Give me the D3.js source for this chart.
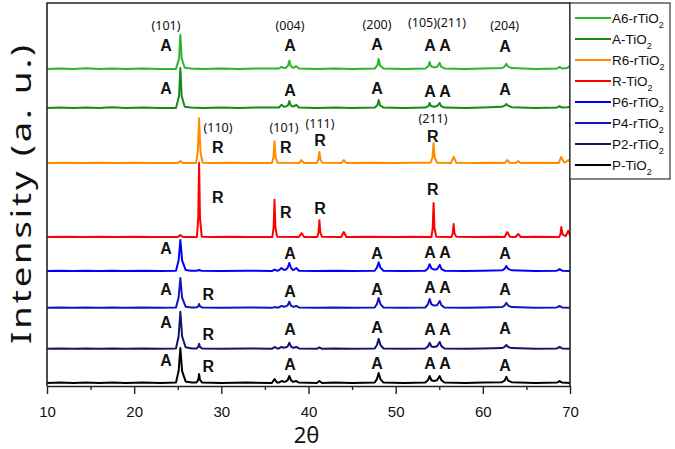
<!DOCTYPE html>
<html><head><meta charset="utf-8">
<script src="https://cdn.jsdelivr.net/npm/d3@7"></script>
<style>body{margin:0;background:#fff}</style>
</head><body><svg id="c" width="675" height="449"></svg>
<script>
// ---- data ----
const seriesNames = ["A6-rTiO", "A-TiO", "R6-rTiO", "R-TiO", "P6-rTiO", "P4-rTiO", "P2-rTiO", "P-TiO"];
const seriesColors = ["#2bb52b", "#168a16", "#ff8c00", "#ff0000", "#0000ff", "#1414b8", "#14146e", "#000000"];
const seriesOffsets = [828, 726, 582, 389, 300, 204, 97, 8];

const A6 = [[10,0],[11.5,1],[13,0],[14.5,1.5],[16,0],[17.5,1],[19,0],[21,1],[23,0],[24.8,0],[25.15,27],[25.3,89],[25.45,27],[25.8,3],[26.5,1],[28,0],[30,1],[32,0],[34,1],[36.6,1],[36.9,5],[37.2,2],[37.4,3],[37.65,8],[37.8,21],[37.95,8],[38.2,3],[38.3,3],[38.6,7],[38.9,1],[41,0],[43,1],[45,0],[47.6,1],[47.9,9],[48.05,26],[48.2,9],[48.6,1],[51,0],[53.4,1],[53.75,7],[53.9,18],[54.05,7],[54.4,4],[54.75,5],[55.05,16],[55.2,6],[55.6,1],[58,0],[60,1],[62.2,2],[62.5,6],[62.7,13],[62.9,6],[63.3,2],[66,0],[68.5,1],[68.8,5],[69.1,1],[69.7,2],[70,8]];
const A = [[10,0],[11.5,1],[13,0],[14.5,1],[16,0],[17.5,1.5],[19,0],[21,1],[23,0],[24.8,0],[25.15,31],[25.3,104],[25.45,31],[25.8,3],[26.5,1],[28,0],[30,1],[32,0],[34,1],[36.6,1],[36.9,8],[37.2,3],[37.4,4],[37.65,7],[37.8,18],[37.95,7],[38.2,4],[38.3,4],[38.6,8],[38.9,1],[41,0],[43,1],[45,0],[47.6,1],[47.9,7],[48.05,21],[48.2,7],[48.6,1],[51,0],[53.4,1],[53.75,5],[53.9,13],[54.05,5],[54.4,3],[54.75,5],[55.05,13],[55.2,5],[55.6,1],[58,0],[60,1],[62.2,3],[62.5,6],[62.7,10],[62.9,6],[63.3,2],[66,0],[68.5,1],[68.8,5],[69.1,1],[69.7,2],[70,3]];
const R6 = [[10,0],[12,1],[14,0],[16,1],[18,0],[20,1],[22,0],[25,0],[25.3,5],[25.6,0],[27.1,0],[27.3,30],[27.45,117],[27.6,30],[27.85,1],[29,0],[31,1],[33,0],[35.8,0],[35.98,15],[36.1,57],[36.22,15],[36.45,1],[38.9,0],[39.2,8],[39.5,0],[40.95,0],[41.12,8],[41.25,29],[41.38,8],[41.6,1],[43.75,0],[44.05,8],[44.35,0],[47,1],[50,0],[52,1],[54.0,1],[54.22,14],[54.35,52],[54.48,14],[54.75,1],[56.35,0],[56.65,16],[56.95,1],[59,0],[61,1],[62.5,0],[62.8,8],[63.1,1],[63.75,0],[64.05,5],[64.35,0],[66,1],[68.7,0],[69.0,16],[69.3,2],[69.5,2],[69.8,8],[70,3]];
const R = [[10,0],[12,1],[14,0],[16,1],[18,0],[20,1],[22,0],[25,0],[25.3,5],[25.6,0],[27.2,0],[27.35,50],[27.45,193],[27.55,50],[27.75,1],[29,0],[31,1],[33,0],[35.85,0],[36.0,25],[36.1,97],[36.2,25],[36.4,1],[38.9,0],[39.2,10],[39.5,0],[41.0,0],[41.15,12],[41.25,44],[41.35,12],[41.55,1],[43.75,0],[44.05,13],[44.35,0],[47,1],[50,0],[52,1],[54.1,0],[54.25,23],[54.35,89],[54.45,23],[54.65,1],[56.4,0],[56.55,9],[56.65,34],[56.75,9],[56.95,1],[59,0],[61,1],[62.5,0],[62.8,13],[63.1,1],[63.75,0],[64.05,8],[64.35,0],[66,1],[68.75,0],[68.9,7],[69.0,26],[69.15,7],[69.5,2],[69.8,16],[70,4]];
const P6 = [[10,0],[11.5,1],[13,0],[14.5,1],[16,0],[17.5,1],[19,0],[21,1],[23,0],[24.8,1],[25.1,28],[25.3,81],[25.5,28],[25.9,3],[26.5,1],[27.2,1],[27.45,3],[27.7,1],[30,0],[33,1],[35.8,0],[36.1,4],[36.4,1],[36.6,2],[36.9,8],[37.2,3],[37.4,4],[37.6,8],[37.8,21],[38.0,8],[38.2,3],[38.3,3],[38.6,8],[38.9,1],[41,0],[43,1],[45,0],[47.6,1],[47.85,9],[48.05,23],[48.25,9],[48.6,1],[51,0],[53.4,1],[53.7,7],[53.9,18],[54.1,7],[54.4,4],[54.75,5],[55.05,16],[55.25,6],[55.6,1],[58,0],[60,1],[62.2,2],[62.5,6],[62.7,13],[62.9,6],[63.3,2],[66,0],[68.5,1],[68.8,5],[69.1,1],[70,0]];
const P4 = [[10,0],[11.5,1],[13,0],[14.5,1],[16,0],[17.5,1],[19,0],[21,1],[23,0],[24.8,1],[25.1,27],[25.3,78],[25.5,27],[25.9,3],[26.6,1],[27.15,1],[27.35,4],[27.45,10],[27.55,4],[27.8,1],[30,0],[33,1],[35.8,0],[36.1,2],[36.4,1],[36.6,1],[36.9,5],[37.2,3],[37.4,4],[37.6,6],[37.8,16],[38.0,6],[38.2,3],[38.3,3],[38.6,5],[38.9,1],[41,0],[43,1],[45,0],[47.6,1],[47.85,10],[48.05,26],[48.25,10],[48.6,1],[51,0],[53.4,1],[53.7,9],[53.9,23],[54.1,9],[54.4,6],[54.75,7],[55.05,18],[55.25,7],[55.6,1],[58,0],[60,1],[62.2,2],[62.5,6],[62.7,13],[62.9,6],[63.3,2],[66,0],[68.5,1],[68.8,5],[69.1,1],[70,0]];
const P2 = [[10,0],[11.5,1],[13,0],[14.5,1],[16,0],[17.5,1],[19,0],[21,1],[23,0],[24.8,1],[25.1,33],[25.3,97],[25.5,33],[25.9,4],[26.6,1],[27.15,1],[27.35,5],[27.45,13],[27.55,5],[27.8,1],[30,0],[33,1],[35.8,0],[36.1,5],[36.4,1],[36.6,1],[36.9,5],[37.2,3],[37.4,4],[37.6,6],[37.8,16],[38.0,6],[38.2,3],[38.3,3],[38.6,5],[38.9,1],[40.95,0],[41.25,4],[41.55,0],[43,1],[45,0],[47.6,1],[47.85,10],[48.05,26],[48.25,10],[48.6,1],[51,0],[53.4,1],[53.7,6],[53.9,16],[54.1,6],[54.4,5],[54.75,7],[55.05,18],[55.25,7],[55.6,1],[58,0],[60,1],[62.2,2],[62.5,5],[62.7,10],[62.9,5],[63.3,2],[66,0],[68.5,1],[68.8,5],[69.1,1],[70,0]];
const P = [[10,0],[11.5,1],[13,0],[14.5,1],[16,0],[17.5,1],[19,0],[21,1],[23,0],[24.8,1],[25.1,31],[25.3,91],[25.5,31],[25.9,4],[26.6,1],[27.15,1],[27.35,8],[27.45,23],[27.55,8],[27.8,1],[30,0],[33,1],[35.8,0],[36.1,10],[36.4,1],[36.6,1],[36.9,5],[37.2,3],[37.4,4],[37.6,7],[37.8,18],[38.0,7],[38.2,3],[38.3,3],[38.6,5],[38.9,1],[40.95,0],[41.25,5],[41.55,0],[43,1],[45,0],[47.6,1],[47.85,10],[48.05,26],[48.25,10],[48.6,1],[51,0],[53.4,1],[53.7,7],[53.9,18],[54.1,7],[54.4,5],[54.75,7],[55.05,18],[55.25,7],[55.6,1],[58,0],[60,1],[62.2,2],[62.5,6],[62.7,16],[62.9,6],[63.3,2],[66,0],[68.5,1],[68.8,5],[69.1,1],[70,0]];
const seriesData = [A6, A, R6, R, P6, P4, P2, P];

const xTicks = [10, 20, 30, 40, 50, 60, 70];
const xMinorTicks = [15, 25, 35, 45, 55, 65];

// Miller index labels: [2theta, intensity, text]
const hklLabels = [[23.65,940,"(101)"],[37.88,940,"(004)"],[47.86,943,"(200)"],[54.74,948,"(105)(211)"],[62.5,940,"(204)"],
  [29.62,674,"(110)"],[37.19,674,"(101)"],[41.32,684,"(111)"],[54.28,698,"(211)"]];
// phase labels: [2theta, intensity, text]
const phaseLabels = [
  [23.65,890,"A"],[37.88,890,"A"],[47.86,893,"A"],[53.94,890,"A"],[55.66,890,"A"],[62.55,887,"A"],
  [23.65,778,"A"],[37.88,773,"A"],[47.86,778,"A"],[53.94,768,"A"],[55.66,768,"A"],[62.55,775,"A"],
  [29.6,624,"R"],[37.38,624,"R"],[41.32,642,"R"],[54.25,652,"R"],
  [29.6,493,"R"],[37.38,454,"R"],[41.32,465,"R"],[54.25,514,"R"],
  [23.65,358,"A"],[37.88,345,"A"],[47.86,347,"A"],[53.94,350,"A"],[55.66,350,"A"],[62.55,347,"A"],
  [23.65,251,"A"],[28.5,240,"R"],[37.88,248,"A"],[47.86,253,"A"],[53.94,258,"A"],[55.66,258,"A"],[62.55,253,"A"],
  [23.65,167,"A"],[28.5,136,"R"],[37.88,149,"A"],[47.86,154,"A"],[53.94,149,"A"],[55.66,149,"A"],[62.55,151,"A"],
  [23.65,68,"A"],[28.5,52,"R"],[37.88,57,"A"],[47.86,60,"A"],[53.94,60,"A"],[55.66,60,"A"],[62.55,55,"A"]
];

// ---- drawing ----
const svg = d3.select("#c");
const L = 47, Rt = 570, T = 3, B = 386;
const x = d3.scaleLinear().domain([10, 70]).range([L, Rt]);
const y = d3.scaleLinear().domain([0, 1000]).range([B, T]);

const line = d3.line().x(d => x(d[0]));
seriesData.forEach((data, i) => {
  const off = seriesOffsets[i];
  svg.append("path")
    .attr("d", line.y(d => y(off + d[1]))(data))
    .attr("fill", "none")
    .attr("stroke", seriesColors[i])
    .attr("stroke-width", 2)
    .attr("stroke-linejoin", "round");
});

// frame
svg.append("path").attr("d", `M${L},${B}V${T}H${Rt}V${B}`).attr("fill", "none").attr("stroke", "#222").attr("stroke-width", 1.6);

// x axis
const ax = svg.append("g").attr("transform", `translate(0,${B})`)
  .call(d3.axisBottom(x).tickValues(xTicks).tickSize(8).tickSizeOuter(0).tickPadding(12).tickFormat(d3.format("d")));
ax.select(".domain").attr("stroke", "#222").attr("stroke-width", 1.6);
ax.selectAll(".tick line").attr("stroke", "#222").attr("stroke-width", 1.4);
ax.selectAll("text").attr("font-family", "Liberation Sans, Arial, sans-serif").attr("font-size", 15).attr("fill", "#111");
const axm = svg.append("g").attr("transform", `translate(0,${B})`)
  .call(d3.axisBottom(x).tickValues(xMinorTicks).tickSize(4).tickSizeOuter(0).tickFormat(""));
axm.select(".domain").remove();
axm.selectAll(".tick line").attr("stroke", "#222").attr("stroke-width", 1.4);

// axis titles
svg.append("text").attr("x", (L + Rt) / 2 - 2).attr("y", 443)
  .attr("text-anchor", "middle").attr("font-family", "Noto Sans, sans-serif").attr("font-size", 22).attr("fill", "#111").text("2θ");
svg.append("text").attr("transform", `translate(31,${(T + B) / 2}) rotate(-90) scale(1.3,1)`)
  .attr("text-anchor", "middle").attr("font-family", "Noto Sans, sans-serif").attr("font-size", 28).attr("fill", "#111")
  .attr("textLength", 230).attr("lengthAdjust", "spacing")
  .text("Intensity (a. u.)");

// annotations
svg.selectAll("text.hkl").data(hklLabels).enter().append("text").attr("class", "hkl")
  .attr("x", d => x(d[0])).attr("y", d => y(d[1])).attr("dy", "0.35em")
  .attr("text-anchor", "middle").attr("font-family", "Noto Sans, sans-serif").attr("font-size", 12.5).attr("fill", "#111")
  .text(d => d[2]);
svg.selectAll("text.ph").data(phaseLabels).enter().append("text").attr("class", "ph")
  .attr("x", d => x(d[0])).attr("y", d => y(d[1])).attr("dy", "0.35em")
  .attr("text-anchor", "middle").attr("font-family", "Liberation Sans, Arial, sans-serif").attr("font-weight", "bold")
  .attr("font-size", 16).attr("fill", "#111").text(d => d[2]);

// legend
const lg = svg.append("g");
lg.append("rect").attr("x", Rt).attr("y", T).attr("width", 100).attr("height", 176)
  .attr("fill", "#fff").attr("stroke", "#333").attr("stroke-width", 1.2);
seriesNames.forEach((n, i) => {
  const yy = 18 + i * 21;
  lg.append("line").attr("x1", 575).attr("x2", 611).attr("y1", yy).attr("y2", yy)
    .attr("stroke", seriesColors[i]).attr("stroke-width", 2);
  const t = lg.append("text").attr("x", 612).attr("y", yy).attr("dy", "0.35em")
    .attr("font-family", "Liberation Sans, Arial, sans-serif").attr("font-size", 13.5).attr("fill", "#111");
  t.append("tspan").text(n);
  t.append("tspan").attr("font-size", 9).attr("dy", 5).text("2");
});
</script></body></html>
